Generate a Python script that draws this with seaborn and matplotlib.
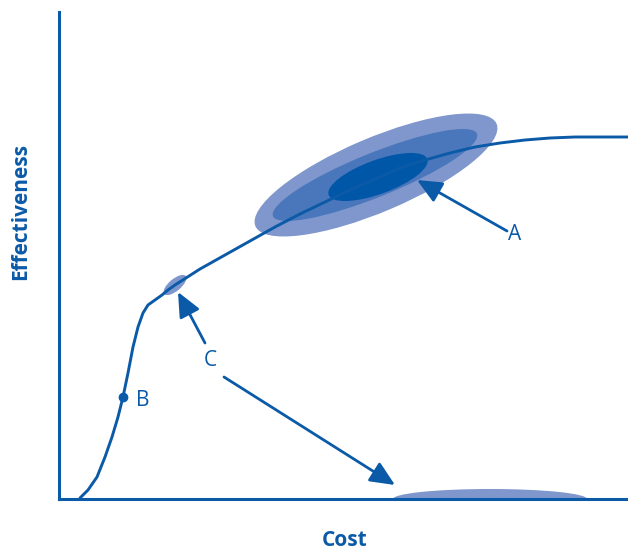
import matplotlib
matplotlib.use("Agg")
import matplotlib.pyplot as plt
from matplotlib.patches import Ellipse
import seaborn as sns

# curve (cost vs effectiveness, arbitrary units)
cost = [21, 29, 38, 46, 53, 59, 64, 69, 74, 79, 84, 89, 96, 103, 109, 116,
        141, 166, 191, 216, 241, 266, 291, 316, 341, 366, 391, 416, 441,
        466, 491, 516, 569]
eff = [1, 9, 22, 42, 62, 82, 102, 126, 152, 172, 186, 194, 199, 204, 209, 214,
       230, 244, 258, 272, 285, 297, 309, 320, 331, 339, 346, 352, 356,
       359, 361, 362, 362]

# uncertainty regions: centre x, centre y, width, height, angle
region_a = [(317, 324, 262, 74, 23), (316, 324, 220, 44, 22), (319, 322, 105, 34, 20)]
region_c = (116, 214, 28, 12, 40)
region_c_cost = (431, 0, 194, 20, 0)

point_b = (64, 102)

blue = "#0b5aa8"
fills = ["#7f97cc", "#4a77bc", "#0057a7"]

sns.set_style("white")
plt.rcParams["font.family"] = ["Open Sans", "DejaVu Sans"]

fig = plt.figure(figsize=(6.28, 5.52), dpi=100)
ax = fig.add_axes([59 / 628, 53 / 552, 569 / 628, 487 / 552])

for (cx, cy, w, h, ang), c in zip(region_a, fills):
    ax.add_patch(Ellipse((cx, cy), w, h, angle=ang, color=c, lw=0, zorder=1))
cx, cy, w, h, ang = region_c
ax.add_patch(Ellipse((cx, cy), w, h, angle=ang, color=fills[0], lw=0, zorder=1))
cx, cy, w, h, ang = region_c_cost
ax.add_patch(Ellipse((cx, cy), w, h, angle=ang, color=fills[0], lw=0, zorder=1))

sns.lineplot(x=cost, y=eff, ax=ax, color=blue, lw=2.1, zorder=3,
             solid_joinstyle="round")
ax.plot(*point_b, "o", color=blue, ms=6, zorder=4)

arrow = dict(arrowstyle="-|>,head_length=1.0,head_width=0.45", color=blue,
             lw=2, shrinkA=0, shrinkB=0, mutation_scale=15)
ax.annotate("", xy=(358, 319), xytext=(448, 268), arrowprops=arrow, zorder=5)
ax.annotate("", xy=(119, 207), xytext=(146, 156), arrowprops=arrow, zorder=5)
ax.annotate("", xy=(336, 14), xytext=(165, 122), arrowprops=arrow, zorder=5)

ax.text(456, 264, "A", color=blue, fontsize=15, ha="center", va="center")
ax.text(151, 139, "C", color=blue, fontsize=15, ha="center", va="center")
ax.text(84, 99, "B", color=blue, fontsize=15, ha="center", va="center")

ax.set_xlim(0, 569)
ax.set_ylim(0, 487)
ax.set_xticks([])
ax.set_yticks([])
sns.despine(ax=ax)
for s in ["left", "bottom"]:
    ax.spines[s].set_color(blue)
    ax.spines[s].set_linewidth(2.2)

fig.text(345 / 628, 1 - 541 / 552, "Cost", color=blue, fontsize=15,
         fontweight="bold", ha="center", va="center")
fig.text(21 / 628, 1 - 212 / 552, "Effectiveness", color=blue, fontsize=15,
         fontweight="bold", ha="center", va="center", rotation=90)

fig.savefig("out.png", dpi=100)
